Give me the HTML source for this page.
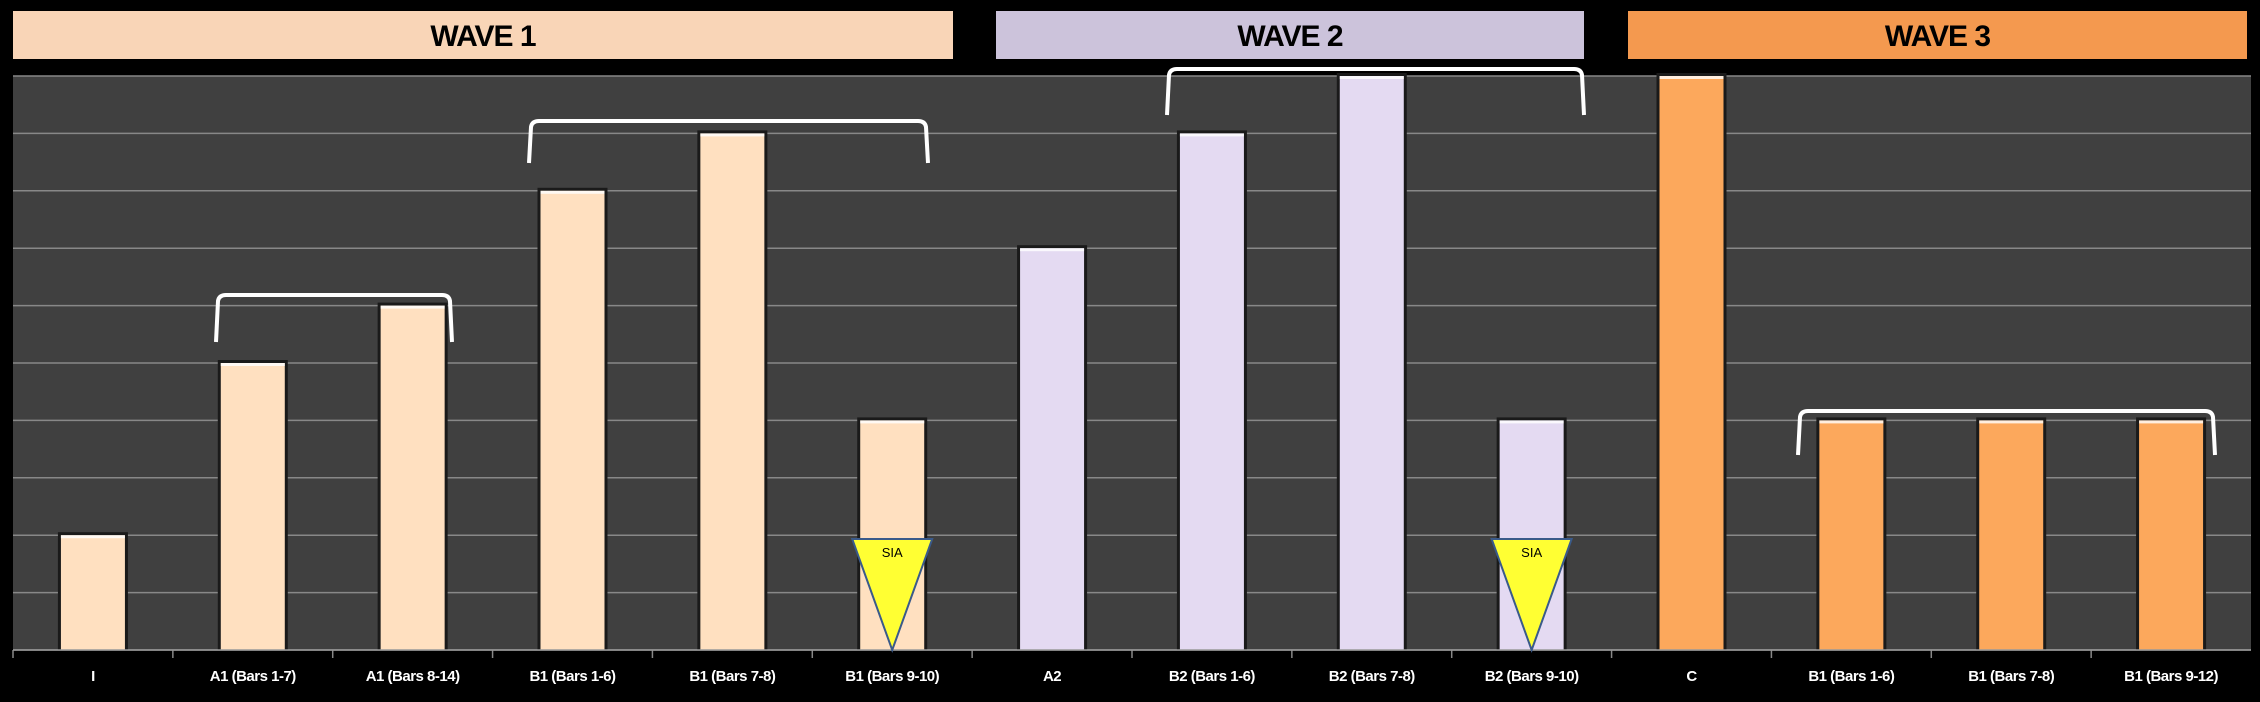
<!DOCTYPE html>
<html><head><meta charset="utf-8"><style>
html,body{margin:0;padding:0;background:#000;}
svg{display:block;}
text{font-family:"Liberation Sans",sans-serif;}
</style></head><body>
<svg id="chart" width="2260" height="702" viewBox="0 0 2260 702" xmlns="http://www.w3.org/2000/svg">
<rect width="2260" height="702" fill="#000"/>
<g id="headers"></g>
<rect x="13" y="76" width="2238" height="574" fill="#404040"/>
<g id="grid"></g><g id="bars"></g><g id="axis"></g><g id="annot"></g>
</svg>
<script>
const categories=["I","A1 (Bars 1-7)","A1 (Bars 8-14)","B1 (Bars 1-6)","B1 (Bars 7-8)","B1 (Bars 9-10)","A2","B2 (Bars 1-6)","B2 (Bars 7-8)","B2 (Bars 9-10)","C","B1 (Bars 1-6)","B1 (Bars 7-8)","B1 (Bars 9-12)"];
const values=[2,5,6,8,9,4,7,9,10,4,10,4,4,4];
const waves=[1,1,1,1,1,1,2,2,2,2,3,3,3,3];
const yTicks=[0,1,2,3,4,5,6,7,8,9,10];
const waveNames=["WAVE 1","WAVE 2","WAVE 3"];
const NS="http://www.w3.org/2000/svg";
const L=13,R=2251,T=76,B=650,YMAX=10;
const bw=(R-L)/categories.length;
function x(i){return L+bw*i;}
function y(v){return B-(v/YMAX)*(B-T);}
function mk(t,a,p){const e=document.createElementNS(NS,t);for(const k in a)e.setAttribute(k,a[k]);p.appendChild(e);return e;}
const barFill={1:"#FFE0C0",2:"#E4DAF2",3:"#FCA85C"};
const hdrFill=["#F9D5B7","#CCC3DB","#F4994F"];
const hdrX=[[13,953],[996,1584],[1628,2247]];
const hg=document.getElementById('headers');
waveNames.forEach((n,i)=>{
 const r=mk('rect',{x:hdrX[i][0],y:11,width:hdrX[i][1]-hdrX[i][0],height:48,fill:hdrFill[i]},hg);
 
 
 const t=mk('text',{x:(hdrX[i][0]+hdrX[i][1])/2,y:46,'text-anchor':'middle','font-size':30,'font-weight':'bold',fill:'#000','letter-spacing':'-1'},hg);
 t.textContent=n;
 
 
});
const gg=document.getElementById('grid');
yTicks.forEach(v=>{
 const l=mk('line',{x1:L,x2:R,y1:y(v),y2:y(v),stroke:'#888','stroke-width':1.5},gg);
 
 
});
const bg=document.getElementById('bars'),ag=document.getElementById('axis');
categories.forEach((c,i)=>{
 const w=64,cx=x(i)+bw/2,top=y(values[i]);
 mk('rect',{x:cx-w/2-3,y:top-3,width:w+6,height:B-top+3,fill:'#1a1a1a'},bg);
 const r=mk('rect',{x:cx-w/2,y:top,width:w,height:B-top,fill:barFill[waves[i]]},bg);
 
 
 mk('rect',{x:cx-w/2,y:top,width:w,height:3,fill:'#fff','fill-opacity':0.8},bg);
 const tk=mk('line',{x1:x(i),x2:x(i),y1:B,y2:B+8,stroke:'#888','stroke-width':1.5},ag);
 
 
 const t=mk('text',{x:cx,y:681,'text-anchor':'middle','font-size':15,'font-weight':'bold',fill:'#fff','letter-spacing':'-0.5'},ag);
 t.textContent=c;
 
 
});
const ax=mk('line',{x1:L,x2:R,y1:B,y2:B,stroke:'#999','stroke-width':1.5},ag);


const an=document.getElementById('annot');
const brackets=[[216,452,295,342],[529,928,121,163],[1167,1584,69,115],[1798,2215,411,455]];
brackets.forEach(b=>{
 const p=mk('path',{d:`M${b[0]},${b[3]} L${b[0]+2},${b[2]+6} Q${b[0]+3},${b[2]} ${b[0]+10},${b[2]} L${b[1]-10},${b[2]} Q${b[1]-3},${b[2]} ${b[1]-2},${b[2]+6} L${b[1]},${b[3]}`,fill:'none',stroke:'#fff','stroke-width':4},an);
 
 
});
[5,9].forEach(i=>{
 const cx=x(i)+bw/2;
 const p=mk('polygon',{points:`${cx-40},539 ${cx+40},539 ${cx},650`,fill:'#FFFF33',stroke:'#3a5a8a','stroke-width':2},an);
 
 
 const t=mk('text',{x:cx,y:557,'text-anchor':'middle','font-size':13,fill:'#000'},an);
 t.textContent='SIA';
 
 
});
</script>
</body></html>
